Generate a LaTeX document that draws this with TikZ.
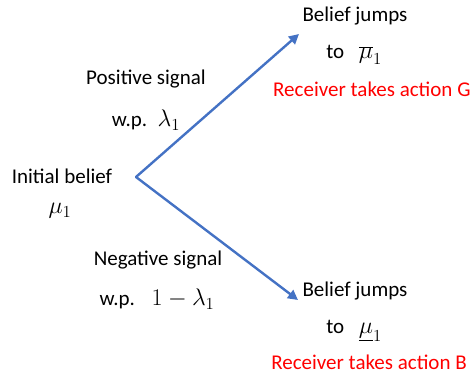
\documentclass[tikz,border=0pt]{standalone}
\usepackage{fix-cm}
\usepackage{fontspec}
\setmainfont{Carlito}
\usetikzlibrary{arrows.meta}
\definecolor{branchblue}{HTML}{4472C4}
\newcommand\bigmath[1]{{\fontsize{24}{28}\selectfont$#1$}}
\begin{document}
\begin{tikzpicture}[x=1pt,y=-1pt,line cap=round,line join=round]
  \tikzset{label/.style={inner sep=0pt,font=\fontsize{21}{25}\selectfont},
    action/.style={label,text=red},
    branch/.style={draw=branchblue,line width=2.4pt,-{Triangle[length=10pt,width=10pt]}}}
  \useasboundingbox (0,0) rectangle (472,378);
  % Root of the tree and the two belief updates it can lead to.
  \node[label] (init) at (62,176) {Initial belief};
  \node[label] (prior) at (60,211) {\bigmath{\mu_1}};
  \coordinate (root) at (136,177);
  \coordinate (uptip) at (299,34);
  \coordinate (downtip) at (298,300);
  \draw[branch] (root) -- (uptip);
  \draw[branch] (root) -- (downtip);
  % Upper branch: positive signal.
  \node[label] (possig) at (146,79) {Positive signal};
  \node[label] (posprob) at (146,120) {w.p.\hspace{0.5em}\bigmath{\lambda_1}};
  \node[label] (highjump) at (355,16) {Belief jumps};
  \node[label] (highto) at (354,55) {to\hspace{0.7em}\bigmath{\overline{\mu}_1}};
  \node[action,anchor=west] (actG) at (273,89) {Receiver takes action G};
  % Lower branch: negative signal.
  \node[label] (negsig) at (158,260) {Negative signal};
  \node[label] (negprob) at (157,299) {w.p.\hspace{0.8em}\bigmath{1-\lambda_1}};
  \node[label] (lowjump) at (355,291) {Belief jumps};
  \node[label] (lowto) at (354,331) {to\hspace{0.7em}\bigmath{\underline{\mu}_1}};
  \node[action] (actB) at (369,362) {Receiver takes action B};
\end{tikzpicture}
\end{document}
